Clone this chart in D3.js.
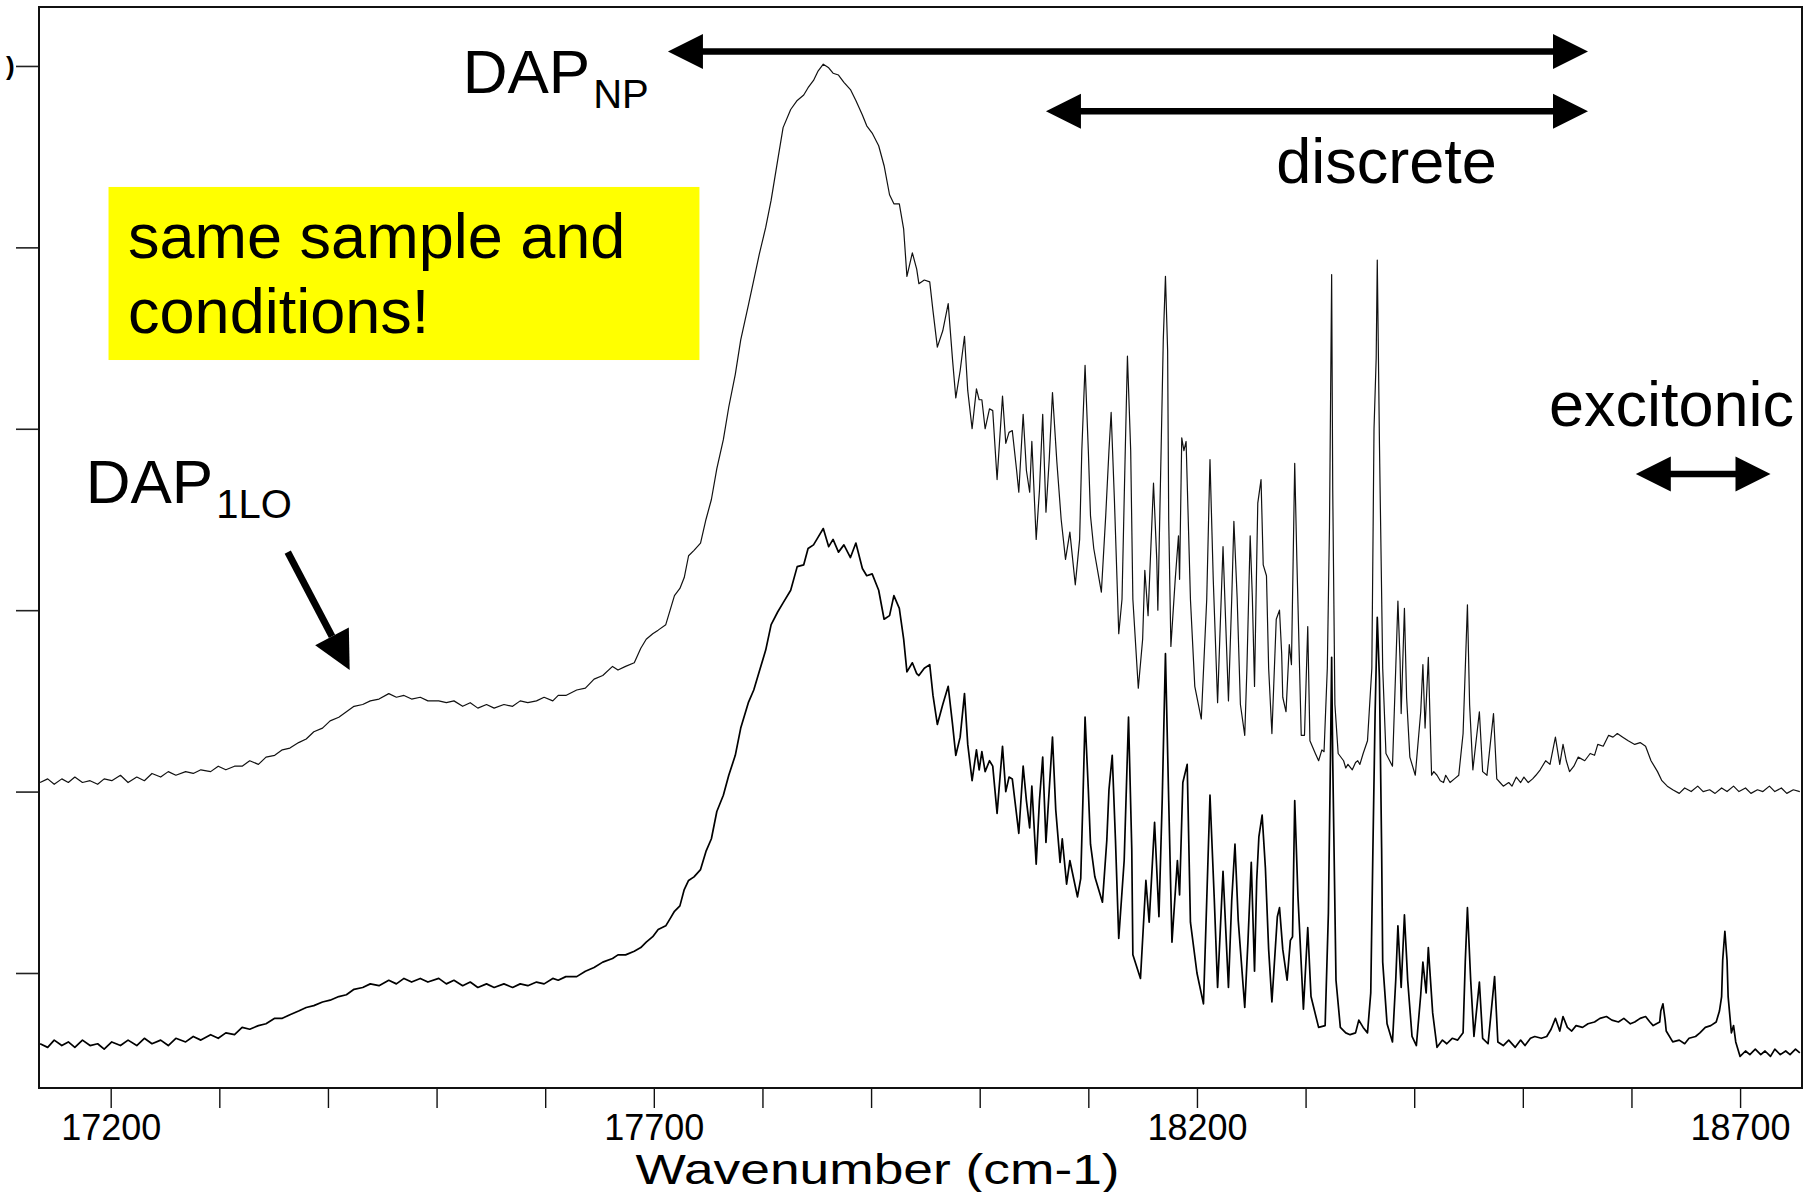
<!DOCTYPE html>
<html>
<head>
<meta charset="utf-8">
<script src="https://cdn.jsdelivr.net/npm/d3@7"></script>
<style>
  body { margin: 0; background: #fff; }
  svg { display: block; font-family: "Liberation Sans", Arial, Helvetica, sans-serif; }
</style>
</head>
<body>
<script>
  var width = 1818;
  var height = 1192;

  // [wavenumber (cm-1), intensity (a.u.)]
  var upperSpectrum = [
    [17135,1.05],[17142,1.07],[17148,1.04],[17155,1.07],[17161,1.05],[17167,1.08],[17174,1.05],[17181,1.06],
    [17188,1.04],[17194,1.07],[17201,1.06],[17209,1.09],[17216,1.05],[17224,1.08],[17231,1.06],[17238,1.10],
    [17246,1.08],[17253,1.11],[17260,1.09],[17269,1.11],[17276,1.10],[17283,1.12],[17292,1.11],[17299,1.14],
    [17306,1.12],[17314,1.14],[17321,1.14],[17328,1.17],[17336,1.15],[17343,1.19],[17351,1.20],[17358,1.23],
    [17365,1.24],[17373,1.27],[17380,1.29],[17387,1.33],[17395,1.35],[17402,1.39],[17410,1.41],[17417,1.44],
    [17424,1.47],[17432,1.48],[17439,1.50],[17447,1.51],[17456,1.54],[17463,1.52],[17470,1.53],[17477,1.51],
    [17485,1.52],[17492,1.50],[17502,1.50],[17509,1.49],[17516,1.50],[17524,1.47],[17531,1.49],[17538,1.46],
    [17546,1.48],[17553,1.46],[17562,1.48],[17570,1.47],[17577,1.50],[17584,1.49],[17592,1.50],[17599,1.52],
    [17607,1.50],[17612,1.53],[17619,1.53],[17629,1.56],[17637,1.57],[17645,1.62],[17653,1.64],[17662,1.69],
    [17667,1.67],[17674,1.69],[17682,1.71],[17688,1.79],[17693,1.84],[17699,1.87],[17704,1.89],[17711,1.92],
    [17715,2.00],[17719,2.08],[17724,2.12],[17728,2.18],[17732,2.30],[17737,2.33],[17743,2.37],[17748,2.50],
    [17753,2.61],[17758,2.78],[17764,2.94],[17769,3.12],[17775,3.30],[17780,3.49],[17787,3.68],[17792,3.82],
    [17797,3.96],[17803,4.11],[17808,4.26],[17814,4.48],[17819,4.66],[17826,4.76],[17832,4.81],[17838,4.84],
    [17842,4.88],[17847,4.92],[17851,4.97],[17856,5.01],[17861,4.99],[17865,4.96],[17870,4.95],[17875,4.91],
    [17881,4.87],[17886,4.81],[17892,4.73],[17896,4.67],[17901,4.63],[17907,4.56],[17912,4.45],[17917,4.29],
    [17921,4.24],[17926,4.24],[17930,4.10],[17933,3.84],[17938,3.97],[17942,3.88],[17944,3.80],[17949,3.82],
    [17954,3.81],[17957,3.65],[17961,3.45],[17966,3.54],[17971,3.69],[17975,3.38],[17978,3.17],[17982,3.32],
    [17986,3.51],[17989,3.21],[17993,3.00],[17997,3.22],[17999.5,3.16],[18002,3.16],[18005,3.00],[18009,3.11],
    [18012,3.10],[18016,2.72],[18021,3.18],[18024,2.92],[18027,2.98],[18030,2.99],[18034,2.77],[18036,2.65],
    [18040,3.08],[18043,2.77],[18046,2.65],[18048,2.93],[18052,2.39],[18055,2.66],[18058,3.08],[18061,2.54],
    [18064,2.83],[18067,3.20],[18071,2.82],[18075,2.50],[18079,2.28],[18083,2.43],[18088,2.14],[18092,2.39],
    [18094,2.88],[18097,3.35],[18100,2.88],[18102,2.52],[18105,2.34],[18112,2.10],[18116,2.52],[18119,2.88],
    [18121,3.09],[18124,2.61],[18127,2.06],[18128,1.87],[18131,2.06],[18134,2.88],[18136,3.40],[18139,2.88],
    [18141,2.06],[18146,1.57],[18150,1.84],[18152,2.22],[18155,1.97],[18160,2.70],[18163,2.28],[18164,2.00],
    [18167,2.88],[18169,3.49],[18171,3.84],[18173,3.43],[18174,2.50],[18176,1.80],[18180,2.17],[18183,2.41],
    [18184,2.17],[18186,2.95],[18188,2.88],[18190,2.93],[18194,2.06],[18198,1.58],[18204,1.40],[18209,2.06],
    [18212,2.83],[18215,2.17],[18219,1.49],[18221,1.84],[18224,2.35],[18227,1.84],[18229,1.50],[18232,2.06],
    [18234,2.49],[18237,2.07],[18240,1.48],[18244,1.31],[18246,1.68],[18249,2.41],[18251,2.07],[18253,1.58],
    [18255,2.27],[18256,2.59],[18259,2.72],[18261,2.25],[18264,2.19],[18266,1.68],[18269,1.32],[18273,1.95],
    [18276,2.00],[18278,1.76],[18279,1.52],[18282,1.44],[18285,1.81],[18287,1.70],[18290,2.81],[18292,2.27],
    [18296,1.31],[18299,1.31],[18302,1.91],[18304,1.28],[18309,1.21],[18312,1.17],[18315,1.23],[18317,1.22],
    [18320,1.68],[18322,2.46],[18324,3.85],[18325,2.66],[18327,1.48],[18330,1.21],[18335,1.17],[18337,1.13],
    [18339,1.15],[18343,1.12],[18346,1.16],[18348,1.17],[18350,1.15],[18353,1.21],[18357,1.28],[18361,1.68],
    [18363,3.00],[18365,3.39],[18366,3.93],[18368,2.92],[18371,1.68],[18374,1.21],[18380,1.14],[18383,1.68],
    [18385,2.05],[18387,1.72],[18388,1.43],[18391,2.01],[18393,1.52],[18396,1.19],[18401,1.09],[18406,1.44],
    [18408,1.70],[18410,1.35],[18413,1.74],[18416,1.09],[18418,1.11],[18421,1.09],[18424,1.06],[18427,1.05],
    [18429,1.09],[18433,1.05],[18437,1.07],[18441,1.09],[18445,1.32],[18449,2.03],[18451,1.48],[18454,1.12],
    [18460,1.44],[18463,1.11],[18467,1.09],[18473,1.43],[18476,1.07],[18479,1.05],[18482,1.03],[18487,1.05],
    [18490,1.03],[18494,1.08],[18498,1.05],[18501,1.08],[18505,1.05],[18509,1.07],[18512,1.09],[18516,1.12],
    [18521,1.17],[18525,1.15],[18530,1.30],[18534,1.15],[18537,1.26],[18540,1.17],[18543,1.11],[18547,1.14],
    [18551,1.19],[18557,1.17],[18562,1.21],[18566,1.20],[18569,1.26],[18574,1.25],[18579,1.31],[18583,1.30],
    [18587,1.32],[18592,1.30],[18597,1.28],[18603,1.26],[18608,1.27],[18613,1.25],[18618,1.17],[18624,1.11],
    [18628,1.06],[18633,1.03],[18638,1.01],[18644,0.99],[18649,1.02],[18655,1.00],[18661,1.03],[18666,1.00],
    [18672,1.01],[18677,0.99],[18683,1.02],[18688,1.00],[18694,1.03],[18699,1.00],[18705,1.02],[18710,0.99],
    [18716,1.01],[18721,1.00],[18727,1.03],[18732,1.00],[18738,1.02],[18743,0.99],[18749,1.01],[18755,1.00]
  ];

  var lowerSpectrum = [
    [17135,-0.39],[17142,-0.41],[17148,-0.37],[17155,-0.40],[17161,-0.38],[17167,-0.41],[17174,-0.37],[17181,-0.40],
    [17188,-0.39],[17194,-0.42],[17201,-0.38],[17209,-0.40],[17216,-0.37],[17224,-0.40],[17231,-0.36],[17238,-0.39],
    [17246,-0.37],[17253,-0.40],[17260,-0.36],[17269,-0.38],[17276,-0.35],[17283,-0.37],[17292,-0.34],[17299,-0.36],
    [17306,-0.33],[17314,-0.34],[17321,-0.30],[17328,-0.31],[17336,-0.29],[17343,-0.28],[17351,-0.25],[17358,-0.25],
    [17365,-0.23],[17373,-0.21],[17380,-0.19],[17387,-0.18],[17395,-0.16],[17402,-0.15],[17410,-0.13],[17417,-0.12],
    [17424,-0.09],[17432,-0.08],[17439,-0.06],[17447,-0.07],[17456,-0.04],[17463,-0.06],[17470,-0.03],[17477,-0.05],
    [17485,-0.03],[17492,-0.05],[17502,-0.03],[17509,-0.06],[17516,-0.04],[17524,-0.07],[17531,-0.05],[17538,-0.08],
    [17546,-0.06],[17553,-0.08],[17562,-0.06],[17570,-0.08],[17577,-0.06],[17584,-0.07],[17592,-0.05],[17599,-0.06],
    [17607,-0.03],[17612,-0.04],[17619,-0.02],[17629,-0.02],[17637,0.01],[17645,0.03],[17653,0.06],[17662,0.08],
    [17667,0.10],[17674,0.10],[17682,0.12],[17688,0.14],[17693,0.17],[17699,0.20],[17704,0.24],[17711,0.26],
    [17715,0.30],[17719,0.34],[17724,0.37],[17728,0.46],[17732,0.51],[17737,0.53],[17743,0.57],[17748,0.67],
    [17753,0.74],[17758,0.89],[17764,0.98],[17769,1.09],[17775,1.20],[17780,1.35],[17787,1.49],[17792,1.56],
    [17797,1.66],[17803,1.78],[17808,1.92],[17814,1.99],[17819,2.04],[17826,2.11],[17832,2.24],[17838,2.25],
    [17842,2.34],[17847,2.36],[17851,2.40],[17856,2.45],[17861,2.35],[17865,2.39],[17870,2.32],[17875,2.36],
    [17881,2.29],[17886,2.37],[17892,2.23],[17896,2.19],[17901,2.20],[17907,2.11],[17912,1.95],[17917,1.97],
    [17921,2.08],[17926,2.01],[17930,1.84],[17933,1.66],[17938,1.71],[17942,1.65],[17944,1.64],[17949,1.68],
    [17954,1.70],[17957,1.53],[17961,1.37],[17966,1.48],[17971,1.58],[17975,1.37],[17978,1.20],[17982,1.30],
    [17986,1.54],[17989,1.26],[17993,1.06],[17997,1.23],[17999.5,1.12],[18002,1.22],[18005,1.11],[18009,1.17],
    [18012,1.14],[18016,0.88],[18021,1.25],[18024,1.00],[18027,1.08],[18030,1.07],[18034,0.87],[18036,0.77],
    [18040,1.14],[18043,0.95],[18046,0.80],[18048,1.03],[18052,0.60],[18055,0.95],[18058,1.19],[18061,0.72],
    [18064,1.01],[18067,1.30],[18070,0.90],[18074,0.61],[18076,0.74],[18080,0.49],[18083,0.62],[18090,0.42],
    [18093,0.52],[18095,0.95],[18097,1.41],[18100,1.01],[18102,0.71],[18106,0.53],[18113,0.39],[18117,0.73],
    [18119,1.01],[18122,1.20],[18125,0.73],[18128,0.19],[18133,0.62],[18137,1.41],[18140,0.68],[18141,0.10],
    [18148,-0.03],[18153,0.51],[18156,0.28],[18161,0.83],[18165,0.31],[18168,0.95],[18171,1.76],[18174,0.95],
    [18177,0.17],[18182,0.62],[18184,0.43],[18187,1.05],[18191,1.15],[18194,0.28],[18200,0.00],[18206,-0.17],
    [18209,0.40],[18212,0.98],[18216,0.40],[18219,-0.08],[18224,0.56],[18229,-0.08],[18232,0.40],[18235,0.71],
    [18238,0.29],[18244,-0.19],[18247,0.18],[18250,0.61],[18253,0.01],[18255,0.51],[18257,0.75],[18260,0.87],
    [18263,0.58],[18266,0.13],[18269,-0.16],[18274,0.31],[18276,0.36],[18279,0.13],[18283,-0.04],[18286,0.18],
    [18288,0.20],[18290,0.95],[18293,0.42],[18298,-0.20],[18302,0.25],[18305,-0.13],[18312,-0.30],[18318,-0.29],
    [18321,0.33],[18323,1.23],[18324,1.74],[18325,1.17],[18328,-0.04],[18332,-0.30],[18337,-0.33],[18341,-0.34],
    [18346,-0.33],[18349,-0.26],[18353,-0.30],[18357,-0.33],[18360,-0.11],[18362,0.69],[18364,1.43],[18366,1.96],
    [18368,1.62],[18370,0.69],[18371,0.06],[18375,-0.28],[18380,-0.38],[18383,-0.04],[18385,0.26],[18388,-0.08],
    [18391,0.32],[18394,-0.04],[18398,-0.35],[18402,-0.40],[18406,-0.12],[18408,0.06],[18411,-0.11],[18413,0.14],
    [18417,-0.22],[18421,-0.41],[18426,-0.37],[18430,-0.39],[18435,-0.36],[18440,-0.37],[18445,-0.33],[18447,0.06],
    [18449,0.36],[18452,-0.04],[18455,-0.35],[18460,-0.05],[18463,-0.36],[18468,-0.39],[18474,-0.02],[18477,-0.38],
    [18482,-0.40],[18487,-0.37],[18493,-0.41],[18498,-0.37],[18502,-0.40],[18507,-0.36],[18511,-0.35],[18517,-0.36],
    [18522,-0.35],[18526,-0.31],[18530,-0.25],[18534,-0.32],[18537,-0.24],[18541,-0.30],[18545,-0.32],[18549,-0.29],
    [18555,-0.30],[18560,-0.28],[18566,-0.27],[18571,-0.25],[18577,-0.24],[18582,-0.26],[18588,-0.27],[18593,-0.25],
    [18599,-0.28],[18603,-0.27],[18608,-0.25],[18613,-0.24],[18617,-0.27],[18620,-0.29],[18626,-0.27],[18627,-0.21],
    [18629,-0.17],[18631,-0.26],[18632,-0.32],[18638,-0.38],[18644,-0.37],[18649,-0.39],[18653,-0.36],[18659,-0.35],
    [18663,-0.33],[18668,-0.30],[18673,-0.29],[18678,-0.27],[18681,-0.21],[18683,-0.13],[18684,0.07],[18686,0.23],
    [18688,0.07],[18689,-0.13],[18692,-0.33],[18694,-0.29],[18696,-0.38],[18700,-0.46],[18705,-0.43],[18709,-0.45],
    [18714,-0.42],[18719,-0.45],[18723,-0.43],[18728,-0.46],[18732,-0.42],[18737,-0.45],[18742,-0.43],[18746,-0.45],
    [18751,-0.42],[18755,-0.44]
  ];

  var xTicks = d3.range(17200, 18701, 100);
  var xLabels = [17200, 17700, 18200, 18700];
  var yTicks = [0, 1, 2, 3, 4, 5];

  // double arrows marking spectral ranges: [from, to, intensity level]
  var rangeArrows = [[17713, 18560, 5.08], [18061, 18560, 4.75], [18604, 18728, 2.75]];
  // single arrow pointing at the DAP 1LO replica: [tail, tip]
  var pointerArrow = [[17363, 2.32], [17420, 1.67]];

  // scales
  var xScale = d3.scaleLinear()
    .domain([17134, 18757])
    .range([39, 1802]);
  var yScale = d3.scaleLinear()
    .domain([-0.634, 5.325])
    .range([1088, 7]);

  var svg = d3.select('body').append('svg')
    .attr('width', width)
    .attr('height', height);

  // axes (ticks only, frame drawn separately)
  var xAxis = d3.axisBottom(xScale)
    .tickValues(xTicks)
    .tickSize(20)
    .tickPadding(6)
    .tickFormat(d => xLabels.includes(d) ? d : '');
  var gx = svg.append('g')
    .attr('transform', 'translate(0,' + yScale.range()[0] + ')')
    .call(xAxis);
  gx.select('.domain').remove();
  gx.selectAll('line').attr('stroke', '#111').attr('stroke-width', 1.4);
  gx.selectAll('text')
    .attr('font-size', 36)
    .attr('font-family', '"Liberation Sans", Arial, sans-serif')
    .attr('fill', '#000');

  var yAxis = d3.axisLeft(yScale)
    .tickValues(yTicks)
    .tickSize(23)
    .tickFormat('');
  var gy = svg.append('g')
    .attr('transform', 'translate(' + xScale.range()[0] + ',0)')
    .call(yAxis);
  gy.select('.domain').remove();
  gy.selectAll('line').attr('stroke', '#222').attr('stroke-width', 1.6);

  // leftover glyph of a clipped tick label at the top tick
  svg.append('text')
    .attr('x', 6)
    .attr('y', yScale(5) + 9)
    .attr('font-size', 26)
    .attr('font-weight', 'bold')
    .text(')');

  // plot frame
  svg.append('rect')
    .attr('x', xScale.range()[0])
    .attr('y', yScale.range()[1])
    .attr('width', xScale.range()[1] - xScale.range()[0])
    .attr('height', yScale.range()[0] - yScale.range()[1])
    .attr('fill', 'none')
    .attr('stroke', '#111')
    .attr('stroke-width', 2);

  // axis title
  svg.append('text')
    .attr('x', xScale(17906))
    .attr('y', 1184)
    .attr('text-anchor', 'middle')
    .attr('font-size', 43)
    .attr('textLength', 484)
    .attr('lengthAdjust', 'spacingAndGlyphs')
    .text('Wavenumber (cm-1)');

  // spectra
  var line = d3.line()
    .x(d => xScale(d[0]))
    .y(d => yScale(d[1]));

  svg.append('path')
    .datum(upperSpectrum)
    .attr('d', line)
    .attr('fill', 'none')
    .attr('stroke', '#111')
    .attr('stroke-width', 1.2)
    .attr('stroke-linejoin', 'round');

  svg.append('path')
    .datum(lowerSpectrum)
    .attr('d', line)
    .attr('fill', 'none')
    .attr('stroke', '#000')
    .attr('stroke-width', 1.7)
    .attr('stroke-linejoin', 'round');

  // arrow helpers
  function headPoints(x1, y1, x2, y2, len, half) {
    var dx = x2 - x1, dy = y2 - y1;
    var l = Math.hypot(dx, dy);
    var ux = dx / l, uy = dy / l;
    var bx = x2 - ux * len, by = y2 - uy * len;
    return [[x2, y2], [bx - uy * half, by + ux * half], [bx + uy * half, by - ux * half]];
  }

  var arrows = svg.append('g').attr('fill', '#000').attr('stroke', '#000');

  rangeArrows.forEach(function(a) {
    var x1 = xScale(a[0]), x2 = xScale(a[1]), yy = yScale(a[2]);
    var len = 35, half = 17.5;
    arrows.append('line')
      .attr('x1', x1 + len - 2).attr('x2', x2 - len + 2)
      .attr('y1', yy).attr('y2', yy)
      .attr('stroke-width', 6.5);
    arrows.append('polygon')
      .attr('stroke', 'none')
      .attr('points', headPoints(x1, yy, x2, yy, len, half).join(' '));
    arrows.append('polygon')
      .attr('stroke', 'none')
      .attr('points', headPoints(x2, yy, x1, yy, len, half).join(' '));
  });

  var px1 = xScale(pointerArrow[0][0]), py1 = yScale(pointerArrow[0][1]);
  var px2 = xScale(pointerArrow[1][0]), py2 = yScale(pointerArrow[1][1]);
  var ph = headPoints(px1, py1, px2, py2, 38, 19);
  arrows.append('line')
    .attr('x1', px1).attr('y1', py1)
    .attr('x2', (ph[1][0] + ph[2][0]) / 2)
    .attr('y2', (ph[1][1] + ph[2][1]) / 2)
    .attr('stroke-width', 7);
  arrows.append('polygon')
    .attr('stroke', 'none')
    .attr('points', ph.join(' '));

  // yellow note box
  svg.append('rect')
    .attr('x', xScale(17198))
    .attr('y', yScale(4.333))
    .attr('width', xScale(17742) - xScale(17198))
    .attr('height', yScale(3.379) - yScale(4.333))
    .attr('fill', '#ffff00');

  var note = svg.append('text')
    .attr('font-size', 63)
    .attr('fill', '#000');
  note.append('tspan').attr('x', xScale(17216)).attr('y', yScale(3.942)).text('same sample and');
  note.append('tspan').attr('x', xScale(17216)).attr('y', yScale(3.528)).text('conditions!');

  // labels with subscripts
  function subLabel(w, v, main, sub) {
    var t = svg.append('text')
      .attr('x', xScale(w))
      .attr('y', yScale(v))
      .attr('font-size', 62)
      .attr('fill', '#000');
    t.append('tspan').text(main);
    t.append('tspan').attr('font-size', 40).attr('dy', 15).attr('dx', 3).text(sub);
  }
  subLabel(17524, 4.851, 'DAP', 'NP');
  subLabel(17177, 2.591, 'DAP', '1LO');

  svg.append('text')
    .attr('x', xScale(18273))
    .attr('y', yScale(4.355))
    .attr('font-size', 63)
    .text('discrete');

  svg.append('text')
    .attr('x', xScale(18524))
    .attr('y', yScale(3.015))
    .attr('font-size', 63)
    .text('excitonic');
</script>
</body>
</html>
